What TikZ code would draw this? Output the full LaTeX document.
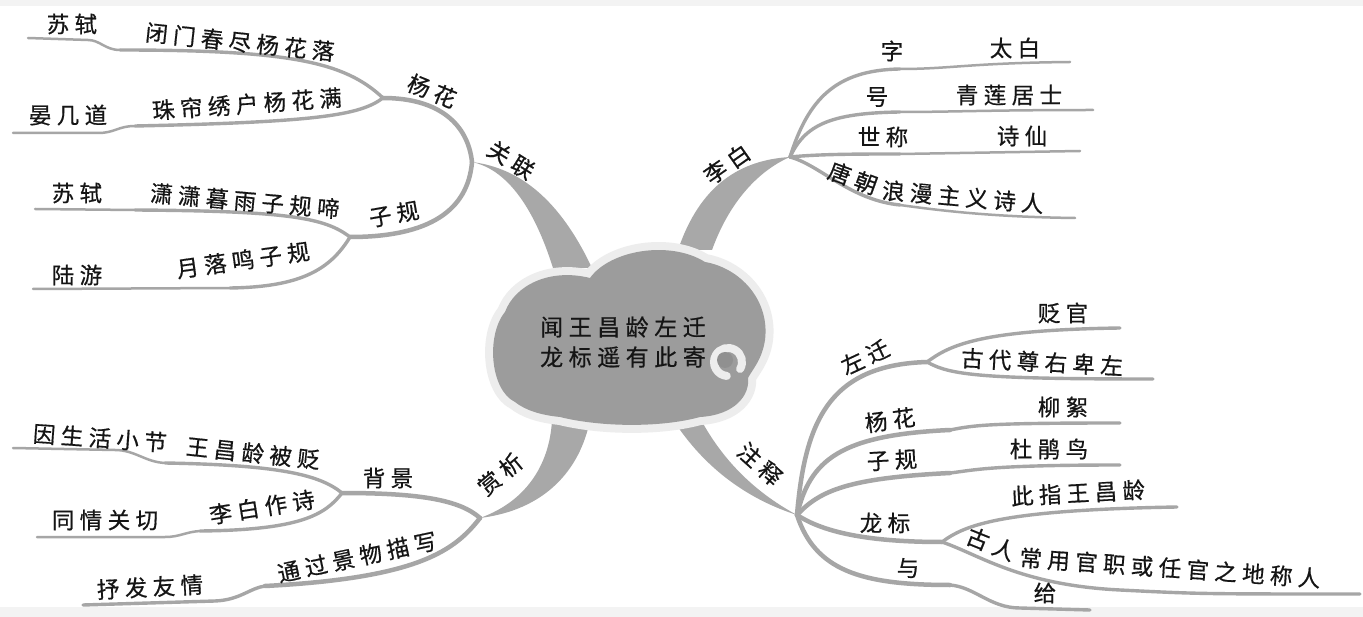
\documentclass[tikz,border=0pt]{standalone}
\usepackage{fontspec}
\newfontfamily\cjk[LetterSpace=24, FakeBold=0.6]{Noto Sans CJK SC}
\definecolor{brc}{HTML}{A6A6A6}
\definecolor{wedgec}{HTML}{A8A8A8}
\definecolor{cloudc}{HTML}{9C9C9C}
\definecolor{haloc}{HTML}{EDEDED}
\definecolor{txt}{HTML}{151515}
\definecolor{bandc}{HTML}{F3F3F3}
\newcommand\cloudshape{(515,402) .. controls (490,390) and (486,335) .. (505,312)
  .. controls (515,285) and (550,268) .. (590,278)
  .. controls (610,250) and (670,240) .. (705,262)
  .. controls (740,268) and (770,300) .. (765,340)
  .. controls (762,360) and (752,370) .. (748,378)
  .. controls (750,395) and (735,415) .. (700,417)
  .. controls (660,428) and (600,427) .. (560,417)
  .. controls (540,415) and (525,410) .. (515,402) -- cycle}
\tikzset{
  lbl/.style={font=\cjk\fontsize{22.5}{26}\selectfont, inner sep=0pt, text=txt},
  br2/.style={draw=brc, line width=4.5pt, line cap=round},
  br3/.style={draw=brc, line width=3.4pt, line cap=round},
  br4/.style={draw=brc, line width=2.5pt, line cap=round},
  wedge/.style={fill=wedgec},
}
\begin{document}
\begin{tikzpicture}[x=1pt,y=-1pt]
\useasboundingbox (0,0) rectangle (1363,617);
\fill[white] (0,0) rectangle (1363,617);
\fill[bandc] (0,0) rectangle (1363,6);
\fill[bandc] (0,607) rectangle (1363,617);

% ---------- coordinates ----------
\coordinate (gl) at (472,162);
\coordinate (yh) at (383,98);
\coordinate (zg) at (350,237);
\coordinate (j1) at (120,50);  \coordinate (e1) at (28,38);
\coordinate (j2) at (135,126); \coordinate (e2) at (13,133);
\coordinate (j3) at (135,210); \coordinate (e3) at (35,209);
\coordinate (j4) at (230,288); \coordinate (e4) at (33,289);

\coordinate (lb) at (790,157);
\coordinate (k1) at (900,69);  \coordinate (f1) at (1070,62);
\coordinate (k2) at (900,112); \coordinate (f2) at (1093,110);
\coordinate (k3) at (900,154); \coordinate (f3) at (1080,151);
\coordinate (k4) at (900,205); \coordinate (f4) at (1075,218);

\coordinate (zs) at (797,515);
\coordinate (zq) at (927,362);
\coordinate (g1) at (1120,328); \coordinate (g2) at (1153,379);
\coordinate (m1) at (950,430);  \coordinate (g3) at (1120,423);
\coordinate (m2) at (950,473);  \coordinate (g4) at (1120,465);
\coordinate (lbh) at (942,542);
\coordinate (g5) at (1177,507); \coordinate (g6) at (1360,594);
\coordinate (m3) at (950,585);  \coordinate (g7) at (1090,610);

\coordinate (sx) at (480,518);
\coordinate (bj) at (342,493);
\coordinate (h1) at (165,463); \coordinate (h1e) at (13,448);
\coordinate (h2) at (200,531); \coordinate (h2e) at (37,537);
\coordinate (h3) at (265,586); \coordinate (h3e) at (83,605);

\coordinate (sw) at (728,362);

% ---------- thin branches ----------
% upper left
\draw[br2] (gl) .. controls (468,125) and (440,98) .. (yh);
\draw[br2] (gl) .. controls (468,210) and (430,237) .. (zg);
\draw[br3] (yh) .. controls (345,62) and (290,50) .. (j1);
\draw[br4] (j1) .. controls (105,50) and (100,40) .. (88,40) -- (e1);
\draw[br3] (yh) .. controls (360,115) and (320,122) .. (j2);
\draw[br4] (j2) .. controls (118,126) and (115,133) .. (98,133) -- (e2);
\draw[br3] (zg) .. controls (325,218) and (290,211) .. (j3);
\draw[br4] (j3) -- (e3);
\draw[br3] (zg) .. controls (330,270) and (300,287) .. (j4);
\draw[br4] (j4) -- (e4);
% upper right
\draw[br3] (lb) .. controls (808,100) and (835,70) .. (k1);
\draw[br4] (k1) .. controls (950,69) and (970,63) .. (f1);
\draw[br3] (lb) .. controls (805,125) and (830,113) .. (k2);
\draw[br4] (k2) .. controls (950,112) and (990,110) .. (f2);
\draw[br3] (lb) .. controls (820,154) and (860,154) .. (k3);
\draw[br4] (k3) -- (f3);
\draw[br3] (lb) .. controls (820,165) and (850,200) .. (k4);
\draw[br4] (k4) .. controls (950,212) and (1000,217) .. (f4);
% lower right
\draw[br2] (zs) .. controls (805,420) and (830,365) .. (zq);
\draw[br3] (zq) .. controls (950,345) and (980,330) .. (g1);
\draw[br3] (zq) .. controls (950,375) and (980,379) .. (g2);
\draw[br2] (zs) .. controls (810,460) and (840,435) .. (m1);
\draw[br3] (m1) .. controls (975,425) and (990,423) .. (g3);
\draw[br2] (zs) .. controls (820,490) and (850,478) .. (m2);
\draw[br3] (m2) .. controls (975,470) and (990,465) .. (g4);
\draw[br2] (zs) .. controls (820,530) and (860,542) .. (lbh);
\draw[br3] (lbh) .. controls (965,525) and (1000,510) .. (g5);
\draw[br3] (lbh) .. controls (980,555) and (1020,585) .. (1120,590) .. controls (1200,594) .. (g6);
\draw[br2] (zs) .. controls (815,570) and (860,585) .. (m3);
\draw[br3] (m3) .. controls (975,587) and (990,608) .. (1020,608) -- (g7);
% lower left
\draw[br2] (sx) .. controls (460,500) and (420,493) .. (bj);
\draw[br3] (bj) .. controls (320,475) and (280,465) .. (h1);
\draw[br4] (h1) .. controls (145,462) and (135,450) .. (115,450) -- (h1e);
\draw[br3] (bj) .. controls (325,515) and (300,530) .. (h2);
\draw[br4] (h2) .. controls (185,532) and (180,537) .. (165,537) -- (h2e);
\draw[br2] (sx) .. controls (455,550) and (420,578) .. (h3);
\draw[br3] (h3) .. controls (250,588) and (240,600) .. (215,601) -- (h3e);

% ---------- thick tapered branches ----------
\fill[wedge] (gl) .. controls (500,168) and (530,195) .. (553,268) -- (592,268) .. controls (560,200) and (520,168) .. (gl) -- cycle;
\fill[wedge] (lb) .. controls (740,160) and (700,185) .. (678,250) -- (712,250) .. controls (730,200) and (760,170) .. (lb) -- cycle;
\fill[wedge] (sx) .. controls (530,500) and (550,460) .. (552,420) -- (590,420) .. controls (580,470) and (545,510) .. (sx) -- cycle;
\fill[wedge] (zs) .. controls (750,500) and (705,470) .. (672,418) -- (700,418) .. controls (725,465) and (760,495) .. (zs) -- cycle;

% ---------- cloud ----------
\draw[haloc, line width=16pt, line join=round] \cloudshape;
\fill[cloudc] \cloudshape;
\draw[haloc, line width=8pt, line cap=round] (sw) ++(-30:14pt) arc[start angle=-30, end angle=265, radius=14pt];
\fill[cloudc!92!black] (sw) ++(-3pt,2pt) circle[radius=8pt];
\node[lbl, align=center, font=\cjk\fontsize{23}{30}\selectfont] (root) at (623,342) {闻王昌龄左迁\\龙标遥有此寄};

% ---------- labels ----------
\node[lbl, rotate=-32] (n-gl) at (511,160) {关联};
\node[lbl, rotate=35]  (n-lb) at (727,164) {李白};
\node[lbl, rotate=40]  (n-sx) at (500,474) {赏析};
\node[lbl, rotate=-42] (n-zs) at (760,464) {注释};

\node[lbl, rotate=-22] (n-yh) at (432,91) {杨花};
\node[lbl, rotate=10]  (n-zg) at (394,214) {子规};
\node[lbl, rotate=-6]  (n-a1) at (240,42) {闭门春尽杨花落};
\node[lbl, rotate=4]   (n-a2) at (247,104) {珠帘绣户杨花满};
\node[lbl, rotate=-5]  (n-a3) at (245,201) {潇潇暮雨子规啼};
\node[lbl, rotate=8]   (n-a4) at (243,260) {月落鸣子规};
\node[lbl] (n-b1) at (72,24) {苏轼};
\node[lbl] (n-b2) at (68,115) {晏几道};
\node[lbl] (n-b3) at (77,193) {苏轼};
\node[lbl] (n-b4) at (77,275) {陆游};

\node[lbl] (n-c1) at (892,51) {字};
\node[lbl] (n-c2) at (877,97) {号};
\node[lbl] (n-c3) at (883,137) {世称};
\node[lbl, rotate=-20] (n-c4a) at (853,178) {唐朝};
\node[lbl, rotate=-5]  (n-c4b) at (963,197) {浪漫主义诗人};
\node[lbl] (n-d1) at (1015,48) {太白};
\node[lbl] (n-d2) at (1009,95) {青莲居士};
\node[lbl] (n-d3) at (1022,136) {诗仙};

\node[lbl, rotate=25] (n-e1) at (865,357) {左迁};
\node[lbl, rotate=8]  (n-e2) at (890,420) {杨花};
\node[lbl, rotate=3]  (n-e3) at (892,460) {子规};
\node[lbl] (n-e4) at (885,523) {龙标};
\node[lbl] (n-e5) at (908,568) {与};
\node[lbl] (n-f1) at (1063,313) {贬官};
\node[lbl, rotate=-3] (n-f2) at (1042,362) {古代尊右卑左};
\node[lbl] (n-f3) at (1063,407) {柳絮};
\node[lbl] (n-f4) at (1049,449) {杜鹃鸟};
\node[lbl, rotate=3] (n-f5) at (1078,493) {此指王昌龄};
\node[lbl, rotate=-22] (n-f6a) at (991,544) {古人};
\node[lbl, rotate=-4] (n-f6b) at (1170,568) {常用官职或任官之地称人};
\node[lbl] (n-f7) at (1045,593) {给};

\node[lbl] (n-g1) at (388,478) {背景};
\node[lbl, rotate=12] (n-g2) at (357,557) {通过景物描写};
\node[lbl, rotate=-6] (n-h1) at (253,453) {王昌龄被贬};
\node[lbl, rotate=9]  (n-h2) at (262,507) {李白作诗};
\node[lbl, rotate=3]  (n-h3) at (150,587) {抒发友情};
\node[lbl, rotate=-4] (n-i1) at (100,438) {因生活小节};
\node[lbl] (n-i2) at (105,520) {同情关切};
\end{tikzpicture}
\end{document}
